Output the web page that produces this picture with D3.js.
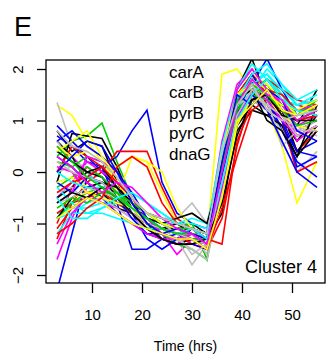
<!DOCTYPE html>
<html>
<head>
<meta charset="utf-8">
<script src="https://cdn.jsdelivr.net/npm/d3@7"></script>
<style>
  body { margin: 0; background: #fff; }
  svg text { font-family: "Liberation Sans", Arial, Helvetica, sans-serif; fill: #000; }
</style>
</head>
<body>
<div class="ClusterPlot"></div>
<script>
// time points (hrs)
const times = [3, 6, 9, 12, 15, 18, 21, 24, 27, 30, 33, 36, 39, 42, 45, 48, 51, 55];

// expression profiles, one row per gene
const series = [
  [0.8,0.4,0.6,0.5,-0.2,-0.7,-1.0,-1.2,-1.3,-1.3,-1.4,0.2,1.5,1.9,1.3,1.0,0.6,1.1],
  [-1.0,-0.3,0.1,-0.1,-0.4,-0.8,-1.1,-1.3,-1.4,-1.3,-1.5,-0.3,1.0,1.6,1.4,1.2,0.4,0.8],
  [0.3,0.6,0.7,0.95,0.2,-0.5,-0.9,-1.1,-1.2,-1.2,-1.3,0.0,1.2,1.5,1.7,1.3,1.1,1.4],
  [0.7,0.5,0.2,0.1,0.3,0.8,1.2,-0.2,-0.8,-1.0,-1.1,0.3,1.1,1.4,1.2,0.9,0.4,0.6],
  [-0.9,-0.8,-0.6,-0.5,-0.4,-0.5,-0.8,-0.9,-1.0,-1.1,-1.2,0.1,1.3,1.8,1.9,1.5,1.2,1.3],
  [-1.7,-0.9,-0.3,-0.2,-0.5,-0.8,-1.0,-1.2,-1.6,-1.3,-1.4,-0.4,1.4,1.7,1.2,1.1,0.8,1.0],
  [1.3,1.1,0.6,0.2,-0.2,-0.6,-0.9,-1.1,-1.2,-1.2,-1.3,1.9,2.0,1.6,1.2,0.5,-0.6,0.2],
  [1.35,0.5,0.3,0.0,-0.3,-0.6,-0.9,-1.1,-1.3,-1.8,-1.4,-0.2,1.2,1.5,1.3,0.6,0.0,0.4],
  [-0.2,0.75,0.7,0.65,0.1,-0.6,-1.0,-1.1,-1.1,-1.0,-1.2,0.3,1.6,2.2,1.4,1.2,0.9,1.6],
  [-1.3,-0.6,-0.2,0.0,0.4,0.4,0.4,-0.3,-0.9,-1.1,-1.2,-0.6,1.0,1.5,1.8,1.4,1.3,1.2],
  [-0.6,-0.4,-0.1,-0.2,-0.4,-0.7,-0.9,-1.0,-1.1,-1.0,-1.7,0.2,1.3,1.5,1.6,1.4,1.0,1.2],
  [-2.3,-1.2,-0.1,0.1,-0.6,-1.5,-1.5,-1.3,-1.2,-1.2,-1.4,-0.2,1.1,1.8,1.5,0.8,0.2,-0.1],
  [-0.8,-0.7,-0.7,-0.6,-0.6,-0.7,-0.9,-1.0,-1.0,-0.9,-1.0,0.2,1.2,1.6,2.0,1.7,1.3,1.4],
  [0.5,0.3,0.0,-0.3,-0.4,-0.6,-1.0,-1.2,-1.3,-1.2,-1.3,0.1,1.3,1.7,1.5,1.2,0.7,0.9],
  [0.2,0.0,-0.3,-0.4,-0.5,0.3,0.2,-0.4,-1.0,-1.2,-1.4,-0.5,0.9,1.6,1.4,1.1,0.9,1.0],
  [0.0,0.1,-0.2,-0.4,-0.6,-0.8,-0.9,-1.0,-1.1,-1.2,-1.6,0.0,1.1,1.4,1.2,0.8,0.9,0.7],
  [0.6,0.3,-0.2,-0.4,-0.7,-0.8,-1.0,-1.3,-1.4,-1.3,-1.3,-0.8,0.9,1.3,1.1,0.9,0.3,0.8],
  [-0.8,-0.6,-0.5,-0.3,-0.4,-0.6,-0.9,-1.1,-1.2,-1.4,-1.5,-0.9,0.5,1.5,1.8,1.6,1.4,1.3],
  [-0.9,-0.6,-0.4,-0.3,-0.6,-0.8,-1.0,-1.2,-1.4,-1.5,-1.7,-0.2,1.2,1.8,1.6,1.3,1.1,1.2],
  [0.9,0.6,0.3,0.0,-0.3,-0.8,-1.3,-1.5,-1.3,-1.1,-1.2,0.0,1.4,1.7,2.2,1.6,1.1,1.3],
  [0.4,0.2,0.0,-0.3,-0.2,-0.4,-0.6,-0.8,-1.0,-1.1,-1.3,0.4,1.5,1.8,1.6,1.4,1.3,1.5],
  [-0.5,-0.2,0.2,0.0,-0.2,-0.5,-0.9,-1.1,-1.2,-1.1,-1.2,0.6,1.7,2.0,1.6,1.2,0.6,0.9],
  [-0.7,-0.5,-0.4,-0.4,-0.3,-0.6,-0.9,-1.2,-1.3,-1.3,-1.4,-0.1,1.3,1.9,1.7,1.4,1.0,1.2],
  [0.6,0.2,0.1,-0.1,-0.4,-0.7,-0.8,-0.9,-0.9,-0.6,-1.0,0.3,1.3,1.5,1.4,1.0,0.9,1.0],
  [-0.5,-0.3,0.0,-0.1,-0.5,-0.8,-1.1,-1.1,-1.0,-1.2,-1.3,-0.5,0.8,1.2,1.1,1.2,0.4,0.9],
  [0.0,0.5,0.3,0.1,-0.3,-0.6,-0.8,-1.0,-1.1,-1.2,-1.3,0.1,1.5,1.9,1.5,1.1,0.7,0.9],
  [-0.3,-0.1,0.1,-0.1,-0.4,-0.7,-0.9,-1.0,-1.2,-1.3,-1.3,0.0,1.4,1.6,1.8,1.5,1.1,1.4],
  [0.3,0.1,-0.2,-0.5,-0.8,-1.0,-1.2,-1.3,-1.4,-1.4,-1.5,-0.3,1.2,1.5,1.3,1.0,0.4,0.3],
  [-0.3,-0.6,-0.8,-0.7,-0.6,-0.7,-0.8,-0.9,-1.0,-1.0,-1.1,0.5,1.6,2.1,1.8,1.5,1.1,1.2],
  [0.1,0.0,-0.4,-0.6,-0.7,-0.9,-1.1,-1.3,-1.4,-1.2,-1.3,-0.2,1.2,1.4,1.6,1.3,1.2,1.3],
  [0.5,0.3,0.4,0.2,0.1,0.3,0.2,0.0,-0.7,-1.1,-1.3,0.2,1.5,1.8,1.6,1.4,1.1,1.3],
  [-0.4,-0.3,-0.6,-0.5,-0.7,-0.9,-1.1,-1.2,-1.3,-1.5,-1.7,-0.4,1.0,1.4,1.5,1.2,0.8,1.0],
  [-0.9,-0.5,-0.3,-0.2,-0.3,-0.6,-0.9,-1.0,-0.9,-0.8,-1.0,0.0,1.2,1.4,1.6,1.2,1.0,1.2],
  [-1.1,-0.7,-0.5,-0.4,-0.6,-0.8,-1.0,-1.1,-1.2,-1.3,-1.5,-0.7,0.3,1.2,1.4,1.0,0.0,0.2],
  [0.2,0.1,0.3,0.2,-0.1,-0.5,-0.8,-1.0,-1.1,-1.1,-1.2,0.1,1.3,1.7,1.5,1.3,1.0,1.1],
  [-0.2,-0.4,-0.1,-0.2,-0.5,-0.9,-1.2,-1.2,-1.3,-1.1,-1.3,-0.1,1.3,1.9,1.4,1.0,0.1,0.3],
  [-1.2,-0.8,-0.8,-0.8,-0.9,-1.0,-1.1,-1.1,-1.2,-1.2,-1.4,0.0,1.3,1.7,1.9,1.6,1.3,1.4],
  [-0.6,-0.4,0.3,0.2,0.0,-0.5,-0.9,-1.2,-1.3,-1.3,-1.5,0.2,1.6,2.0,1.6,1.3,0.9,1.1],
  [-0.2,-0.1,-0.4,-0.5,-0.6,-0.7,-1.0,-1.1,-1.2,-1.2,-1.3,-0.6,0.9,1.5,1.3,1.1,0.9,0.8],
  [-0.6,-0.5,-0.3,-0.4,-0.5,-0.7,-0.8,-1.0,-1.2,-1.6,-1.4,0.1,1.4,1.8,1.4,0.5,0.8,0.8],
  [0.4,0.2,0.0,0.1,-0.3,-0.6,-1.0,-1.1,-1.2,-1.1,-1.2,0.1,1.4,1.6,1.0,0.8,0.3,1.3],
  [-0.4,-0.2,-0.1,0.1,-0.2,-0.5,-0.8,-0.9,-1.0,-1.1,-1.2,0.3,1.5,1.7,1.5,1.2,1.0,1.1],
  [-0.7,-0.5,-0.6,-0.4,-0.4,-0.6,-0.8,-1.0,-1.1,-1.2,-1.4,0.0,1.2,1.5,1.4,1.3,1.2,1.2],
  [0.6,0.8,0.5,0.3,0.0,-0.4,-0.9,-1.1,-1.2,-1.3,-1.4,-0.1,1.1,1.5,1.2,0.6,0.0,-0.3],
  [0.0,-0.2,-0.3,-0.3,-0.5,-0.7,-0.9,-1.1,-1.2,-1.1,-1.2,0.3,1.4,1.9,2.1,1.7,1.4,1.6],
  [-1.4,-0.8,-0.5,-0.6,-0.8,-1.0,-1.2,-1.3,-1.3,-1.2,-1.4,-0.3,1.0,1.6,1.4,1.0,0.7,0.9],
  [0.4,0.6,0.8,0.3,-0.1,-0.5,-0.8,-1.0,-1.1,-1.2,-1.3,0.4,1.5,1.7,1.5,1.3,1.2,1.4],
  [0.2,0.0,-0.1,-0.2,-0.5,-0.8,-1.0,-1.1,-1.2,-1.3,-1.4,-0.2,1.1,1.6,1.3,1.1,0.7,0.9],
  [-0.6,-0.4,-0.5,-0.3,-0.5,-0.8,-1.1,-1.3,-1.4,-1.4,-1.3,-0.6,0.7,1.4,1.5,1.1,1.0,1.0],
  [-1.2,-1.0,-0.7,-0.5,0.1,0.3,0.1,-0.6,-1.0,-1.1,-1.3,-1.4,0.6,1.3,1.6,1.5,1.2,1.1],
  [0.5,0.2,-0.1,-0.3,-0.5,-0.7,-0.9,-1.1,-1.2,-1.2,-1.3,0.1,1.4,1.7,1.5,1.2,0.9,1.0],
  [0.0,0.3,0.6,0.5,0.0,-0.6,-1.0,-1.2,-1.1,-1.2,-1.3,0.2,1.5,1.3,1.6,1.4,0.8,0.6],
  [-0.5,-0.9,-0.9,-0.7,-0.5,-0.4,-0.6,-0.8,-1.0,-1.1,-1.3,-0.2,1.0,1.5,1.8,1.4,1.2,1.1],
  [0.3,0.1,-0.2,-0.4,-0.2,-0.3,-0.6,-0.9,-1.1,-1.2,-1.4,0.0,1.3,1.8,1.5,1.4,1.0,1.2],
  [-0.9,-0.7,-0.5,-0.6,-0.8,-1.0,-1.1,-1.2,-1.3,-1.3,-1.5,-0.5,1.0,1.3,1.6,1.2,1.1,1.3],
  [0.8,0.5,0.4,0.2,-0.1,-0.5,-0.8,-0.9,-1.0,-1.1,-1.2,0.4,1.3,1.7,1.2,1.0,1.1,1.2]
];

// R default palette, cycled over the genes
const lineColors = ["#000000", "#ff0000", "#00cd00", "#0000ff", "#00ffff", "#ff00ff", "#ffff00", "#bebebe"];

const geneLabels = ["carA", "carB", "pyrB", "pyrC", "dnaG"];
const xTicks = [10, 20, 30, 40, 50];
const yTicks = [-2, -1, 0, 1, 2];

const width = 333, height = 355;
const box = { left: 46, right: 325, top: 60, bottom: 283 };

const x = d3.scaleLinear()
  .domain([0.8, 56.6])
  .range([box.left, box.right]);

const y = d3.scaleLinear()
  .domain([-2.155, 2.175])
  .range([box.bottom, box.top]);

const svg = d3.select(".ClusterPlot")
  .append("svg")
  .attr("width", width)
  .attr("height", height);

svg.append("defs").append("clipPath")
  .attr("id", "plotClip")
  .append("rect")
  .attr("x", box.left)
  .attr("y", box.top)
  .attr("width", box.right - box.left)
  .attr("height", box.bottom - box.top);

// panel letter
svg.append("text")
  .attr("x", 14)
  .attr("y", 36)
  .style("font-size", "27px")
  .text("E");

const line = d3.line()
  .x((d, i) => x(times[i]))
  .y(d => y(d));

svg.append("g")
  .attr("clip-path", "url(#plotClip)")
  .selectAll("path")
  .data(series)
  .enter()
  .append("path")
  .attr("d", line)
  .attr("fill", "none")
  .attr("stroke", (d, i) => lineColors[i % lineColors.length])
  .attr("stroke-width", 1.6)
  .attr("stroke-linejoin", "miter");

// gene names
svg.append("g")
  .selectAll("text")
  .data(geneLabels)
  .enter()
  .append("text")
  .attr("x", 169)
  .attr("y", (d, i) => 78 + i * 20.4)
  .style("font-size", "17px")
  .text(d => d);

svg.append("text")
  .attr("x", 317)
  .attr("y", 273)
  .attr("text-anchor", "end")
  .style("font-size", "18px")
  .text("Cluster 4");

// box
svg.append("rect")
  .attr("x", box.left)
  .attr("y", box.top)
  .attr("width", box.right - box.left)
  .attr("height", box.bottom - box.top)
  .attr("fill", "none")
  .attr("stroke", "#000")
  .attr("stroke-width", 1.3);

// bottom axis
const xAxis = svg.append("g")
  .attr("transform", `translate(0,${box.bottom})`)
  .call(d3.axisBottom(x).tickValues(xTicks).tickSize(10).tickPadding(16));
xAxis.select(".domain").remove();
xAxis.selectAll("line").attr("stroke-width", 1.3);
xAxis.selectAll("text")
  .style("font-size", "15px")
  .style("font-family", "'Liberation Sans', Arial, sans-serif");

// left axis, labels parallel to axis as R draws them
const yAxis = svg.append("g")
  .attr("transform", `translate(${box.left},0)`)
  .call(d3.axisLeft(y).tickValues(yTicks).tickSize(9).tickFormat(d => d < 0 ? "\u2212" + Math.abs(d) : d));
yAxis.select(".domain").remove();
yAxis.selectAll("line").attr("stroke-width", 1.3);
yAxis.selectAll("text")
  .attr("x", null)
  .attr("dy", null)
  .attr("text-anchor", "middle")
  .attr("transform", "translate(-23,0) rotate(-90)")
  .style("font-size", "15px")
  .style("font-family", "'Liberation Sans', Arial, sans-serif");

svg.append("text")
  .attr("x", (box.left + box.right) / 2)
  .attr("y", 351)
  .attr("text-anchor", "middle")
  .style("font-size", "14px")
  .text("Time (hrs)");
</script>
</body>
</html>
